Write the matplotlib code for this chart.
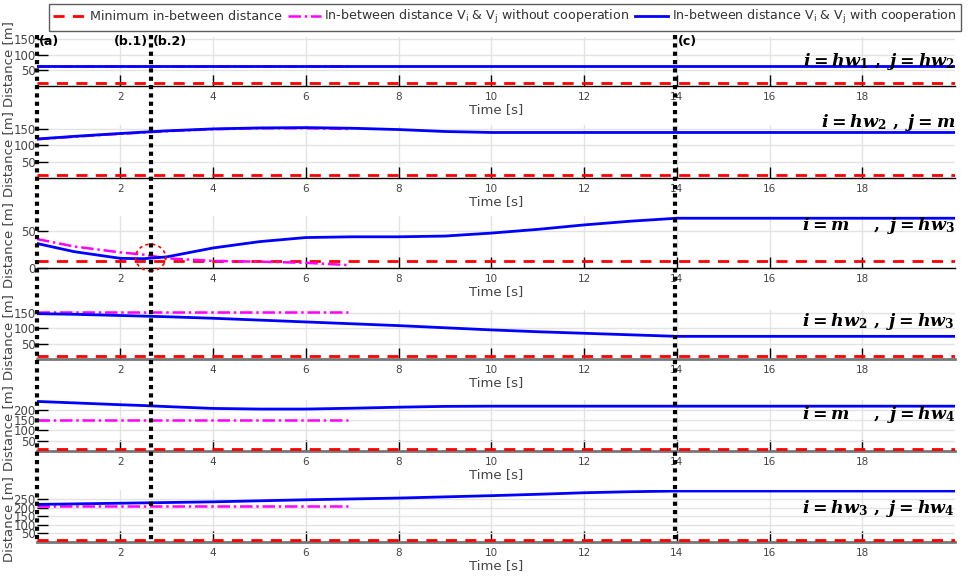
import matplotlib
matplotlib.use("Agg")
import matplotlib.pyplot as plt
from matplotlib.lines import Line2D
from matplotlib.patches import Ellipse
from matplotlib.transforms import blended_transform_factory

plt.rcParams['font.family'] = ['DejaVu Sans']
plt.rcParams['mathtext.fontset'] = 'custom'
plt.rcParams['mathtext.it'] = 'DejaVu Serif:italic:bold'
plt.rcParams['mathtext.rm'] = 'DejaVu Serif:bold'
plt.rcParams['mathtext.bf'] = 'DejaVu Serif:italic:bold'

# -----------------------------
# data
# -----------------------------
T_COOP = [0.2, 1, 2, 2.5, 3, 4, 5, 6, 7, 8, 9, 10, 11, 12, 13, 14, 15, 16, 17, 18, 19, 20]
T_NOCOOP = [0.2, 1, 2, 2.5, 3, 4, 5, 6, 6.9]
T_MIN = [0.2, 20]
MIN_DIST = [10, 10]

coop_1 = [65] * 22
coop_2 = [120, 128, 137, 141, 145, 151, 154, 155, 153, 149, 143, 140, 140, 140, 140, 140, 140, 140, 140, 140, 140, 140]
coop_3 = [33, 22, 13, 12.5, 15, 27, 35.5, 41, 42, 42, 43, 47, 52, 58, 63, 67, 67, 67, 67, 67, 67, 67]
coop_4 = [148, 146, 142, 140, 138, 133, 127, 121, 115, 109, 102, 95, 89, 84, 79, 74, 74, 74, 74, 74, 74, 74]
coop_5 = [241, 234, 225, 221, 216, 207, 204, 204, 208, 213, 217, 218, 218, 218, 218, 218, 218, 218, 218, 218, 218, 218]
coop_6 = [219, 222, 226, 228, 230, 234, 240, 246, 251, 256, 263, 270, 278, 287, 293, 297, 297, 297, 297, 297, 297, 297]

nocoop_1 = [65] * 9
nocoop_2 = [119, 127, 136, 140, 144, 150, 153, 153, 151]
nocoop_3 = [39, 29, 21, 18, 13, 9.5, 8.5, 7, 4]
nocoop_4 = [155] * 9
nocoop_5 = [150] * 9
nocoop_6 = [212] * 9

PAIR_LABELS = [
    r'$i=hw_1\ ,\ j=hw_2$',
    r'$i=hw_2\ ,\ j=m$',
    r'$i=m\quad\ ,\ j=hw_3$',
    r'$i=hw_2\ ,\ j=hw_3$',
    r'$i=m\quad\ ,\ j=hw_4$',
    r'$i=hw_3\ ,\ j=hw_4$',
]
YTICKS = [[50, 100, 150], [50, 100, 150], [0, 50], [50, 100, 150],
          [50, 100, 150, 200], [50, 100, 150, 200, 250]]
YMAX = [158, 163, 70, 160, 248, 303]

EVENT_T = [0.2, 2.65, 13.95]

coop = [coop_1, coop_2, coop_3, coop_4, coop_5, coop_6]
nocoop = [nocoop_1, nocoop_2, nocoop_3, nocoop_4, nocoop_5, nocoop_6]

# -----------------------------
# layout (pixels of a 980x576 figure)
# -----------------------------
W, H = 980, 576
panel_px = [(37, 86), (125, 178), (216, 268), (310, 359), (400, 451), (490, 542)]
label_y = [0.5, 1.04, 0.81, 0.76, 0.71, 0.65]

fig = plt.figure(figsize=(9.8, 5.76), dpi=100)

axes = []
for k, (top, bot) in enumerate(panel_px):
    ax = fig.add_axes([37 / W, 1 - bot / H, 918 / W, (bot - top) / H])
    axes.append(ax)
    ax.plot(T_MIN, MIN_DIST, color='#ff0000', lw=2, ls=(0, (4, 3)), zorder=3)
    ax.plot(T_NOCOOP, nocoop[k], color='#ff00ff', lw=1.8, ls=(0, (5, 1.5, 1, 1.5)), zorder=4)
    ax.plot(T_COOP, coop[k], color='#0000ff', lw=2, zorder=5)

    ax.set_xlim(0.2, 20)
    ax.set_ylim(0, YMAX[k])
    ax.set_xticks([2, 4, 6, 8, 10, 12, 14, 16, 18])
    ax.set_yticks(YTICKS[k])
    ax.grid(True, color='#e3e3e3', lw=1)
    ax.set_axisbelow(True)
    ax.tick_params(axis='x', direction='in', length=8, width=1, color='black',
                   labelsize=7.5, labelcolor='#444444', pad=4)
    ax.tick_params(axis='y', direction='in', length=8, width=1, color='black',
                   labelsize=8.5, labelcolor='#444444', pad=1)
    for s in ['top', 'right', 'left']:
        ax.spines[s].set_visible(False)
    if k < 3:
        ax.spines['bottom'].set_color('black')
        ax.spines['bottom'].set_linewidth(1)
    else:
        ax.spines['bottom'].set_color('#777777')
        ax.spines['bottom'].set_linewidth(2)
    ax.set_xlabel('Time [s]', fontsize=9.5, color='#444444', labelpad=1)
    ax.set_ylabel('Distance [m]', fontsize=9.5, color='#444444')
    ax.yaxis.set_label_coords(-0.024, 0.45)
    ax.text(1.0, label_y[k], PAIR_LABELS[k], transform=ax.transAxes,
            ha='right', va='center', fontsize=12.5, color='black', zorder=6)

# red dashed circle around the critical point in panel 3
axes[2].add_patch(Ellipse((EVENT_T[1], 14), 0.65, 36, fill=False, ec='#ff0000',
                          lw=1.2, ls=(0, (2, 2)), clip_on=False, zorder=7))

# vertical event lines through all panels
tr = blended_transform_factory(axes[0].transData, fig.transFigure)
for t in EVENT_T:
    fig.add_artist(Line2D([t, t], [1 - 35 / H, 1 - 543 / H], transform=tr,
                          color='black', lw=3, ls=(0, (1, 1)), zorder=10))

ev_y = 1 - 41 / H
fig.text(0.25, ev_y, '(a)', transform=tr, ha='left', va='center', fontsize=9, fontweight='bold')
fig.text(EVENT_T[1] - 0.06, ev_y, '(b.1)', transform=tr, ha='right', va='center', fontsize=9, fontweight='bold')
fig.text(EVENT_T[1] + 0.06, ev_y, '(b.2)', transform=tr, ha='left', va='center', fontsize=9, fontweight='bold')
fig.text(EVENT_T[2] + 0.08, ev_y, '(c)', transform=tr, ha='left', va='center', fontsize=9, fontweight='bold')

# legend
handles = [
    Line2D([], [], color='#ff0000', lw=2, ls=(0, (4, 3))),
    Line2D([], [], color='#ff00ff', lw=1.8, ls=(0, (5, 1.5, 1, 1.5))),
    Line2D([], [], color='#0000ff', lw=2),
]
labels = [
    'Minimum in-between distance',
    r'In-between distance V$_\mathregular{i}$ & V$_\mathregular{j}$ without cooperation',
    r'In-between distance V$_\mathregular{i}$ & V$_\mathregular{j}$ with cooperation',
]
leg = fig.legend(handles, labels, loc='upper left', bbox_to_anchor=(49 / W, 1 - 4 / H),
                 ncol=3, fontsize=9.1, frameon=True, fancybox=False, edgecolor='#333333',
                 handlelength=2.6, handletextpad=0.3, columnspacing=0.45, borderpad=0.35,
                 borderaxespad=0)
leg.get_frame().set_linewidth(1)
for txt in leg.get_texts():
    txt.set_color('#333333')

fig.savefig('out.png', dpi=100)
